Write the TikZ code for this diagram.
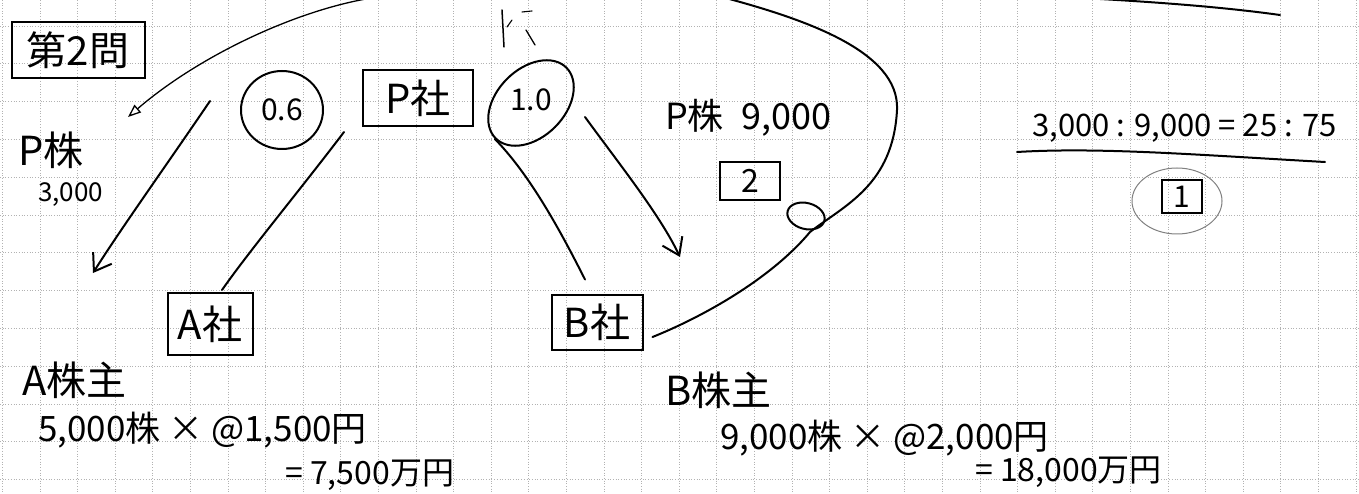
\documentclass[tikz,border=0pt]{standalone}
\usepackage{fontspec}
\setmainfont{Noto Sans CJK JP}
\usetikzlibrary{arrows.meta,shapes.geometric,calc}
\begin{document}
\begin{tikzpicture}[x=1pt,y=-1pt,
  ink/.style={line width=2pt,black,line cap=round,line join=round},
  gridline/.style={dotted,gray!60,line width=0.7pt},
  boxnode/.style={draw,line width=2pt,inner sep=0pt},
  txt/.style={inner sep=0pt,anchor=west},
  barb/.style={-{Straight Barb[length=16pt,width=22pt,line width=2pt]}},
  big/.style={font=\fontsize{40}{44}\selectfont},
  mid/.style={font=\fontsize{36}{40}\selectfont},
  small/.style={font=\fontsize{30}{34}\selectfont}]
\useasboundingbox (0,0) rectangle (1359,494);
\fill[white] (0,0) rectangle (1359,494);
% grid
\foreach \i in {0,...,36} \draw[gridline] ({2.4+37.6*\i},0) -- ({2.4+37.6*\i},494);
\foreach \j in {0,...,12} \draw[gridline] (0,{26+37.8*\j}) -- (1359,{26+37.8*\j});

% boxes and labels
\node[boxnode,font=\fontsize{40}{44}\selectfont,minimum width=133pt,minimum height=56pt] (dai) at (78,50) {第2問};
\node[txt,big] (pkabu) at (18,150) {P株};
\node[txt,font=\fontsize{26}{30}\selectfont] (p3000) at (38,195) {3,000};
\node[draw,ellipse,ink,small,minimum width=82pt,minimum height=78pt,inner sep=0pt] (r06) at (282,110) {0.6};
\node[boxnode,big,minimum width=110pt,minimum height=56pt] (psha) at (418,98) {P社};
\node[draw,ellipse,ink,minimum width=100pt,minimum height=68pt,rotate=45] (r10) at (531,103) {};
\node[small] (t10) at (531,100) {1.0};
\node[txt,mid] (p9000) at (665,118) {P株\hspace{18pt}9,000};
\node[boxnode,font=\fontsize{32}{34}\selectfont,minimum width=60pt,minimum height=38pt] (b2) at (750,181) {2};
\node[boxnode,big,minimum width=85pt,minimum height=62pt] (asha) at (210,324) {A社};
\node[boxnode,big,minimum width=91pt,minimum height=55pt] (bsha) at (597,322) {B社};
\node[txt,big] (akabunushi) at (22,380) {A株主};
\node[txt,font=\fontsize{35}{38}\selectfont] (acalc) at (38,430) {5,000株 × @1,500円};
\node[txt,font=\fontsize{32}{34}\selectfont] (ares) at (285,475) {= 7,500万円};
\node[txt,big] (bkabunushi) at (665,390) {B株主};
\node[txt,font=\fontsize{35}{38}\selectfont] (bcalc) at (720,438) {9,000株 × @2,000円};
\node[txt,font=\fontsize{32}{34}\selectfont] (bres) at (975,472) {= 18,000万円};
\node[txt,font=\fontsize{31}{34}\selectfont] (ratio) at (1032,128) {3,000 : 9,000 = 25 : 75};
\node[draw,ellipse,gray,line width=1pt,minimum width=90pt,minimum height=66pt] (c1) at (1177,201) {};
\node[boxnode,font=\fontsize{30}{32}\selectfont,minimum width=40pt,minimum height=33pt] (b1) at (1182,197) {1};

% free ends
\coordinate (topA) at (378,-3);
\coordinate (tipA) at (128,117);
\coordinate (s1) at (210,101);
\coordinate (e1) at (93,273);
\coordinate (s2) at (585,117);
\coordinate (e2) at (680,257);
\coordinate (bigend) at (722,-3);
\coordinate (trs) at (1100,-1);
\coordinate (tre) at (1280,15);
\coordinate (ulS) at (1017,152);
\coordinate (ulE) at (1325,162);

% connectors
\draw[ink,line width=1.3pt,-{Triangle[open,length=13pt,width=10pt,line width=1.3pt]}]
  (topA) .. controls (300,8) and (200,55) .. (tipA);
\draw[ink,barb] (s1) .. controls (170,160) and (120,230) .. (e1);
\draw[ink] ([xshift=-18pt,yshift=-5pt]psha.south west) .. controls (300,190) and (250,250) .. ([xshift=12pt,yshift=2pt]asha.north);
\draw[ink] (r10.west) .. controls (530,175) and (560,230) .. ([xshift=-12pt,yshift=14pt]bsha.north);
\draw[ink,barb] (s2) .. controls (620,165) and (660,215) .. (e2);
\draw[ink] ([xshift=9pt,yshift=-15pt]bsha.east) .. controls (700,318) and (770,280) .. (810,232)
  .. controls (845,205) and (893,185) .. (897,110) .. controls (900,50) and (800,18) .. (bigend);
\draw[ink,rotate around={-15:(806,216)}] (806,216) ellipse (19 and 13);
\draw[ink] (trs) .. controls (1170,3) and (1230,8) .. (tre);
\draw[ink] (ulS) .. controls (1100,147) and (1200,155) .. (ulE);

% stray mark
\draw[ink,line width=1.5pt] (502,10) -- (504,47);
\draw[ink,line width=1.1pt] (507,27) -- (512,20);
\draw[ink,line width=1.1pt] (522,12) -- (532,11);
\draw[ink,line width=1.3pt] (526,30) -- (535,45);
\end{tikzpicture}
\end{document}
